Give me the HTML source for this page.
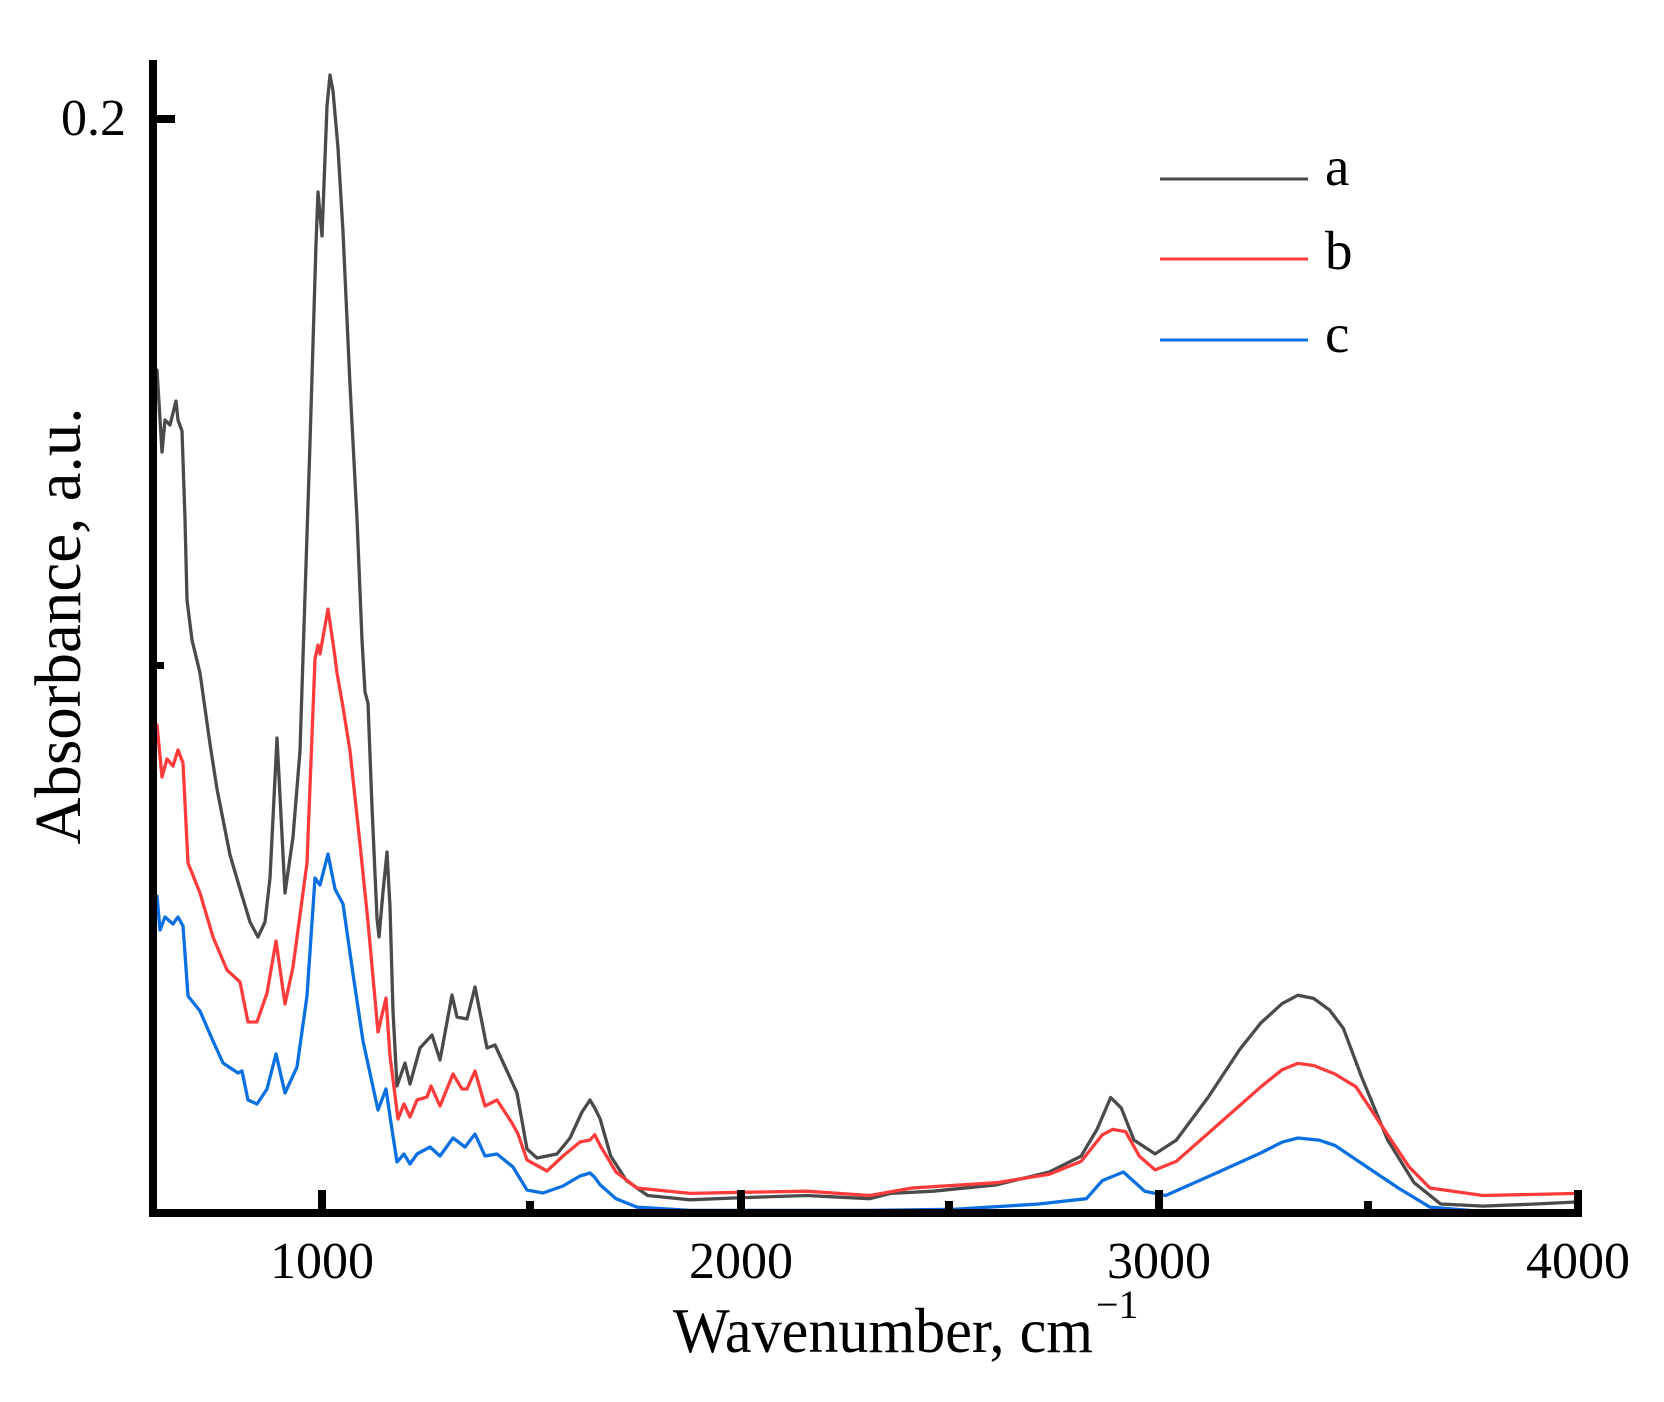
<!DOCTYPE html>
<html><head><meta charset="utf-8"><style>
html,body{margin:0;padding:0;background:#fff;}
svg{display:block;}
text{font-family:"Liberation Serif",serif;fill:#000;}
</style></head><body>
<svg id="s" width="1664" height="1402" viewBox="0 0 1664 1402" xmlns="http://www.w3.org/2000/svg">
<rect width="1664" height="1402" fill="#fff"/>
<g id="curves" fill="none" stroke-width="3.3" stroke-linejoin="round" stroke-linecap="round"></g>
<rect x="149" y="60" width="8" height="1157" fill="#000"/>
<rect x="149" y="1209" width="1433" height="8" fill="#000"/>
<rect x="157" y="115" width="18" height="8" fill="#000"/>
<rect x="157" y="662" width="7" height="7" fill="#000"/>
<rect x="318" y="1190" width="8" height="20" fill="#000"/>
<rect x="737" y="1190" width="8" height="20" fill="#000"/>
<rect x="1155" y="1190" width="8" height="20" fill="#000"/>
<rect x="1574" y="1190" width="8" height="20" fill="#000"/>
<rect x="526" y="1201" width="8" height="9" fill="#000"/>
<rect x="945" y="1201" width="8" height="9" fill="#000"/>
<rect x="1364" y="1201" width="8" height="9" fill="#000"/>
<text x="126" y="135" font-size="52" text-anchor="end">0.2</text>
<text x="322" y="1278" font-size="52" text-anchor="middle">1000</text>
<text x="741" y="1278" font-size="52" text-anchor="middle">2000</text>
<text x="1159" y="1278" font-size="52" text-anchor="middle">3000</text>
<text x="1578" y="1278" font-size="52" text-anchor="middle">4000</text>
<text x="673" y="1352" font-size="64" textLength="420" lengthAdjust="spacingAndGlyphs">Wavenumber, cm</text>
<text x="1096" y="1318" font-size="40">−1</text>
<text transform="translate(80,626) rotate(-90)" font-size="66" text-anchor="middle" textLength="437" lengthAdjust="spacingAndGlyphs">Absorbance, a.u.</text>
<line x1="1160" y1="179" x2="1308" y2="179" stroke="#4a4a4a" stroke-width="3"/>
<line x1="1160" y1="259" x2="1308" y2="259" stroke="#ff3b3b" stroke-width="3"/>
<line x1="1160" y1="340" x2="1308" y2="340" stroke="#0a6fe0" stroke-width="3"/>
<text x="1325" y="185" font-size="55">a</text>
<text x="1325" y="269" font-size="55">b</text>
<text x="1325" y="352" font-size="55">c</text>
</svg>
<script>
(function(){
function D(arr){return arr.map(function(p){return [321+(p[0]-301)*1.0572,p[1]*1.0655];});}
var a=[[157,370],[162,452],[165,420],[170,425],[176,401],[178,420],[182,431],[185,519],[187,600],[192,640],[200,673],[210,744],[217,789],[230,855],[240,889],[250,922],[258,937],[265,922],[270,878],[277,738],[285,893],[293,837],[300,751],[303,657],[310,443],[316,244],[318,192],[322,236],[327,106],[330,75],[333,91],[338,148],[343,232],[350,385],[357,519],[362,640],[365,692],[368,703],[372,807],[377,918],[379,937],[383,892],[387,852],[390,907],[393,1011],[397,1086],[405,1063],[410,1084],[420,1048],[432,1035],[440,1060],[452,995],[457,1017],[467,1019],[475,987],[487,1048],[495,1045],[507,1071],[517,1093],[527,1149],[537,1158],[557,1154],[570,1138],[582,1112],[590,1100]].concat(D([[560,1040],[565,1050],[575,1085],[590,1108],[610,1122],[650,1126],[700,1124],[760,1122],[820,1125],[840,1120],[880,1118],[940,1112],[990,1100],[1020,1085],[1035,1060],[1048,1030],[1058,1040],[1070,1070],[1090,1083],[1110,1070],[1140,1030],[1170,985],[1190,960],[1210,942],[1225,934],[1240,937],[1255,948],[1268,965],[1285,1010],[1310,1070],[1335,1110],[1360,1130],[1400,1132],[1450,1130],[1490,1128]]));
var b=[[157,725],[162,777],[167,759],[173,766],[178,750],[183,763],[188,863],[200,893],[213,937],[227,970],[240,982],[248,1022],[257,1022],[267,993],[276,941],[285,1004],[293,967],[307,863],[315,659],[318,645],[320,654],[328,609],[335,657],[337,673],[343,707],[350,751],[360,844],[368,922],[378,1032],[386,998],[390,1056],[398,1119],[404,1104],[410,1117],[417,1100],[427,1097],[431,1086],[440,1106],[453,1074],[462,1089],[467,1089],[475,1071],[485,1106],[497,1100],[512,1123],[518,1134],[527,1160],[547,1171],[563,1156],[580,1142],[590,1140]].concat(D([[560,1065],[565,1075],[580,1100],[600,1115],[650,1120],[700,1119],[760,1118],[820,1122],[860,1115],[940,1110],[990,1102],[1020,1090],[1040,1065],[1050,1060],[1062,1062],[1075,1085],[1090,1098],[1110,1090],[1150,1055],[1190,1020],[1210,1004],[1225,998],[1240,1000],[1260,1008],[1280,1020],[1300,1050],[1330,1095],[1350,1115],[1400,1122],[1490,1120]]));
var c=[[157,896],[160,930],[165,917],[173,924],[178,917],[183,926],[188,996],[200,1011],[213,1041],[223,1063],[238,1073],[242,1071],[248,1100],[257,1104],[267,1089],[276,1054],[285,1093],[297,1067],[307,996],[315,878],[320,885],[328,854],[335,889],[343,904],[353,974],[363,1041],[378,1110],[386,1089],[391,1123],[397,1162],[404,1154],[410,1164],[417,1154],[430,1147],[440,1156],[453,1138],[465,1147],[475,1134],[485,1156],[497,1154],[513,1167],[527,1190],[543,1193],[563,1186],[580,1176],[590,1173]].concat(D([[560,1105],[565,1112],[580,1125],[600,1133],[650,1136],[700,1136],[820,1136],[900,1135],[980,1130],[1025,1125],[1040,1108],[1060,1100],[1080,1118],[1100,1122],[1150,1100],[1190,1082],[1210,1072],[1225,1068],[1245,1070],[1260,1075],[1290,1095],[1320,1115],[1350,1133],[1400,1137],[1490,1137]]));
function path(pts,col){
 pts=pts.filter(function(p,i){return i==0||p[0]>pts[i-1][0]-0.01;});
 var d="M"+pts.map(function(p){return p[0].toFixed(1)+","+p[1].toFixed(1);}).join(" L");
 var e=document.createElementNS("http://www.w3.org/2000/svg","path");
 e.setAttribute("d",d);e.setAttribute("stroke",col);
 document.getElementById("curves").appendChild(e);
}
path(a,"#4a4a4a");path(b,"#ff3b3b");path(c,"#0a6fe0");
})();
</script>
</body></html>
